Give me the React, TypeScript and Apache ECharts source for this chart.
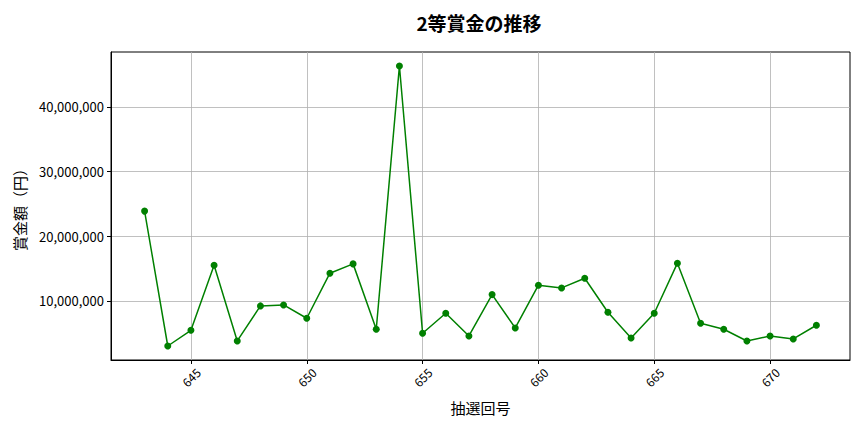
import { useEffect, useRef } from 'react';
import * as echarts from 'echarts';

const FONT = '"Noto Sans CJK JP", "Noto Sans", sans-serif';
const LINE_COLOR = '#008000';
const GRID_COLOR = '#b0b0b0';

// 抽選回号
const rounds = [
  643, 644, 645, 646, 647, 648, 649, 650, 651, 652,
  653, 654, 655, 656, 657, 658, 659, 660, 661, 662,
  663, 664, 665, 666, 667, 668, 669, 670, 671, 672,
];

// 2等賞金（円）
const prizes = [
  23890000, 3030000, 5460000, 15530000, 3810000, 9230000, 9380000, 7320000, 14290000, 15730000,
  5620000, 46330000, 5000000, 8100000, 4580000, 10980000, 5820000, 12430000, 12010000, 13510000,
  8250000, 4270000, 8100000, 15840000, 6550000, 5620000, 3810000, 4580000, 4120000, 6240000,
];

const xTicks = [645, 650, 655, 660, 665, 670];
const yTicks = [10000000, 20000000, 30000000, 40000000];

export default function App() {
  const ref = useRef<HTMLDivElement>(null);

  useEffect(() => {
    document.body.style.margin = '0';
    if (!ref.current) return;
    const chart = echarts.init(ref.current, undefined, { renderer: 'svg' });

    // matplotlib-style 5% margins around the data
    const xSpan = rounds[rounds.length - 1] - rounds[0];
    const yLo = Math.min(...prizes);
    const yHi = Math.max(...prizes);
    const ySpan = yHi - yLo;

    chart.setOption({
      animation: false,
      backgroundColor: '#ffffff',
      textStyle: { fontFamily: FONT },
      title: {
        text: '2等賞金の推移',
        left: 474,
        top: 8,
        textAlign: 'center',
        textStyle: { fontFamily: FONT, fontSize: 19, fontWeight: 'bold', color: '#000' },
      },
      grid: {
        left: 111,
        right: 14,
        top: 52,
        bottom: 72,
        show: true,
        borderColor: '#000',
        borderWidth: 1,
        backgroundColor: 'transparent',
      },
      xAxis: {
        type: 'value',
        min: rounds[0] - xSpan * 0.05,
        max: rounds[rounds.length - 1] + xSpan * 0.05,
        splitNumber: 6,
        name: '抽選回号',
        nameLocation: 'middle',
        nameGap: 40,
        nameTextStyle: { fontFamily: FONT, fontSize: 15, color: '#000' },
        axisLine: { show: true, lineStyle: { color: '#000', width: 1 } },
        axisTick: { show: true, customValues: xTicks, length: 4, lineStyle: { color: '#000' } },
        axisLabel: {
          customValues: xTicks,
          rotate: 45,
          align: 'center',
          verticalAlign: 'middle',
          margin: 17,
          fontFamily: FONT,
          fontSize: 12,
          color: '#000',
        },
        splitLine: { show: true, lineStyle: { color: GRID_COLOR, width: 0.8 } },
      },
      yAxis: {
        type: 'value',
        min: yLo - ySpan * 0.05,
        max: yHi + ySpan * 0.05,
        splitNumber: 5,
        name: '賞金額（円）',
        nameLocation: 'middle',
        nameGap: 84,
        nameRotate: 90,
        nameTextStyle: { fontFamily: FONT, fontSize: 15, color: '#000' },
        axisLine: { show: true, lineStyle: { color: '#000', width: 1 } },
        axisTick: { show: true, customValues: yTicks, length: 4, lineStyle: { color: '#000' } },
        axisLabel: {
          customValues: yTicks,
          margin: 7,
          fontFamily: FONT,
          fontSize: 13,
          color: '#000',
          formatter: (v: number) => Math.round(v).toLocaleString('en-US'),
        },
        splitLine: { show: true, lineStyle: { color: GRID_COLOR, width: 0.8 } },
      },
      series: [
        {
          name: '2等賞金',
          type: 'line',
          data: rounds.map((r, i) => [r, prizes[i]]),
          symbol: 'circle',
          symbolSize: 7,
          itemStyle: { color: LINE_COLOR },
          lineStyle: { color: LINE_COLOR, width: 1.5 },
        },
      ],
    });

    return () => chart.dispose();
  }, []);

  return <div ref={ref} style={{ width: 864, height: 432 }} />;
}
